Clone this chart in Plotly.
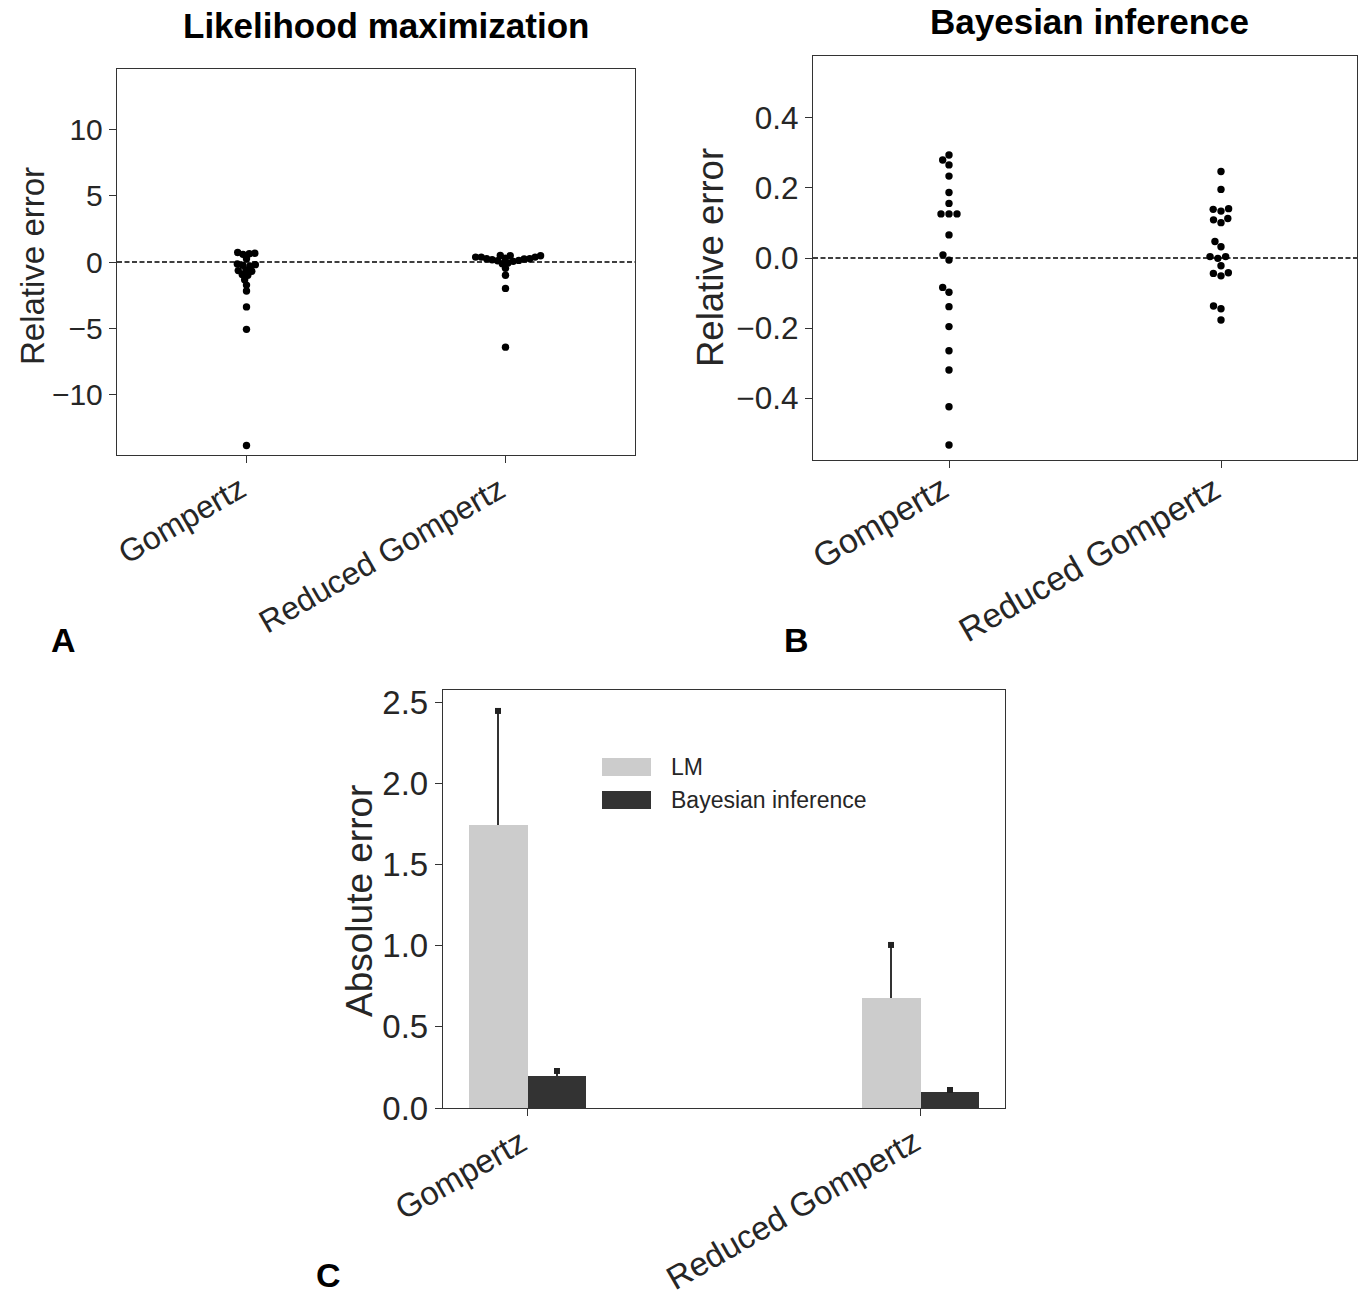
import numpy as np
import plotly.graph_objects as go

# ---------------------------------------------------------------- data
models = ["Gompertz", "Reduced Gompertz"]

# Relative errors, likelihood maximization (LM)
lm_gompertz = [0.72, 0.62, 0.58, 0.66, 0.25, -0.15, -0.25, -0.2, -0.3,
               -0.6, -0.7, -0.65, -1.0, -0.95, -1.35, -1.75, -2.2, -3.4,
               -5.1, -13.9]
lm_reduced = [0.47, 0.37, 0.29, 0.37, 0.17, 0.1, 0.5, 0.23, -0.08, 0.05,
              -0.13, 0.12, 0.25, 0.25, 0.37, 0.47, -0.48, -1.0, -2.0, -6.45]

# Relative errors, Bayesian inference
bayes_gompertz = [0.294, 0.28, 0.266, 0.234, 0.187, 0.156, 0.126, 0.126,
                  0.126, 0.066, 0.009, -0.006, -0.084, -0.098, -0.139,
                  -0.196, -0.265, -0.32, -0.425, -0.534]
bayes_reduced = [0.247, 0.196, 0.139, 0.134, 0.141, 0.109, 0.101, 0.113,
                 0.047, 0.032, 0.004, -0.001, 0.004, -0.022, -0.044,
                 -0.051, -0.042, -0.137, -0.145, -0.177]

# Mean absolute error and its standard error
lm_mean_abs = [1.74, 0.677]
lm_sem = [0.705, 0.327]
bayes_mean_abs = [0.197, 0.098]
bayes_sem = [0.031, 0.013]

# ---------------------------------------------------------------- layout
W, H = 1360, 1299
FONT = "Liberation Sans"
TXT = "#262626"
AX = "#333333"


def px_x(x):
    return x / W


def px_y(y):
    return 1 - y / H


# plot boxes in pixels: (left, top, right, bottom)
box_a = (117, 69, 635, 455)
box_b = (813, 56, 1357, 460)
box_c = (443, 690, 1005, 1108)

range_a = [-14.62, 14.62]
range_b = [-0.577, 0.577]
range_c = [0, 2.574]
xr_ab = [-0.5, 1.5]
xr_c = [-0.215, 1.215]

DOT = 7.4  # marker diameter in px


def swarm_offsets(values, box, yrange, xrange, diam):
    """Beeswarm layout: horizontal offsets (data units) so dots don't overlap."""
    ppy = (box[3] - box[1]) / (yrange[1] - yrange[0])
    ppx = (box[2] - box[0]) / (xrange[1] - xrange[0])
    vals = np.asarray(values, dtype=float)
    offs = np.zeros(len(vals))
    placed = []
    for i in np.argsort(vals, kind="stable"):
        y = vals[i] * ppy
        cands = [0.0]
        for (qx, qy) in placed:
            dy = abs(qy - y)
            if dy < diam:
                dx = np.sqrt(diam ** 2 - dy ** 2)
                cands += [qx + dx, qx - dx]
        cands.sort(key=lambda c: (abs(c), c))
        chosen = cands[-1]
        for c in cands:
            if all((c - qx) ** 2 + (y - qy) ** 2 >= diam ** 2 - 1e-6
                   for (qx, qy) in placed):
                chosen = c
                break
        placed.append((chosen, y))
        offs[i] = chosen / ppx
    return offs


fig = go.Figure()

# ---- panel A: LM relative errors
for k, vals in enumerate([lm_gompertz, lm_reduced]):
    xo = k + swarm_offsets(vals, box_a, range_a, xr_ab, 5.6)
    fig.add_trace(go.Scatter(x=xo, y=vals, mode="markers", xaxis="x", yaxis="y",
                             marker=dict(size=DOT, color="black"),
                             cliponaxis=False, showlegend=False))

# ---- panel B: Bayesian relative errors
for k, vals in enumerate([bayes_gompertz, bayes_reduced]):
    xo = k + swarm_offsets(vals, box_b, range_b, xr_ab, 8.0)
    fig.add_trace(go.Scatter(x=xo, y=vals, mode="markers", xaxis="x2", yaxis="y2",
                             marker=dict(size=DOT, color="black"),
                             cliponaxis=False, showlegend=False))

# ---- panel C: mean absolute errors
BW = 0.15
xpos = np.arange(len(models))
for vals, errs, col, off in [(lm_mean_abs, lm_sem, "#cccccc", -BW),
                             (bayes_mean_abs, bayes_sem, "#333333", 0.0)]:
    fig.add_trace(go.Bar(x=xpos, y=vals, width=BW, offset=off, xaxis="x3", yaxis="y3",
                         marker=dict(color=col, line=dict(width=0)),
                         error_y=dict(type="data", array=errs, arrayminus=[0] * len(errs),
                                      symmetric=False, color=AX, thickness=1.5, width=0),
                         showlegend=False))
    fig.add_trace(go.Scatter(x=xpos + off + BW / 2,
                             y=np.asarray(vals) + np.asarray(errs),
                             mode="markers", xaxis="x3", yaxis="y3",
                             marker=dict(symbol="square", size=6, color="#222222"),
                             cliponaxis=False, showlegend=False))


def axis_style(size=30, **kw):
    d = dict(showline=True, mirror=True, linecolor=AX, linewidth=1.4,
             ticks="outside", ticklen=7, tickwidth=1.4, tickcolor=AX,
             showgrid=False, zeroline=False, automargin=False,
             tickfont=dict(family=FONT, size=size, color=TXT))
    d.update(kw)
    return d


def dom_x(b):
    return [px_x(b[0]), px_x(b[2])]


def dom_y(b):
    return [px_y(b[3]), px_y(b[1])]


def cat_axis(box, xr, anchor):
    # category names are drawn as rotated, right-aligned annotations below
    return axis_style(domain=dom_x(box), range=xr, anchor=anchor,
                      tickvals=list(range(len(models))), showticklabels=False)


fig.update_layout(
    width=W, height=H, autosize=False,
    margin=dict(l=0, r=0, t=0, b=0, autoexpand=False),
    paper_bgcolor="white", plot_bgcolor="white",
    showlegend=False, bargap=0,
    xaxis=cat_axis(box_a, xr_ab, "y"),
    yaxis=axis_style(domain=dom_y(box_a), range=range_a, anchor="x",
                     tickvals=[-10, -5, 0, 5, 10]),
    xaxis2=cat_axis(box_b, xr_ab, "y2"),
    yaxis2=axis_style(size=31.5, domain=dom_y(box_b), range=range_b, anchor="x2",
                      tickvals=[-0.4, -0.2, 0, 0.2, 0.4], tickformat=".1f"),
    xaxis3=cat_axis(box_c, xr_c, "y3"),
    yaxis3=axis_style(size=33, domain=dom_y(box_c), range=range_c, anchor="x3",
                      tickvals=[0, 0.5, 1.0, 1.5, 2.0, 2.5], tickformat=".1f"),
)

# rotated category labels, right end aligned under each tick
for xref, box, size, gap, shift in [("x", box_a, 32, 12, 8), ("x2", box_b, 34, 6, 8),
                                    ("x3", box_c, 33, 11, 8)]:
    for k, name in enumerate(models):
        fig.add_annotation(text=name, xref=xref, x=k, yref="paper",
                           y=px_y(box[3] + gap), showarrow=False, textangle=-30,
                           xanchor="right", yanchor="top", xshift=shift,
                           font=dict(family=FONT, size=size, color=TXT))

# zero reference lines
for xr, yr in [("x domain", "y"), ("x2 domain", "y2")]:
    fig.add_shape(type="line", xref=xr, yref=yr, x0=0, x1=1, y0=0, y1=0,
                  line=dict(color="black", width=1.3, dash="5px,2.5px"))

# text: titles, axis titles, panel letters
texts = [
    ("<b>Likelihood maximization</b>", 386, 25, 35, 0, "middle"),
    ("<b>Bayesian inference</b>", 1089, 22, 35, 0, "middle"),
    ("Relative error", 32, 266, 33, -90, "middle"),
    ("Relative error", 711, 258, 36.5, -90, "middle"),
    ("Absolute error", 360, 901, 37, -90, "middle"),
    ("<b>A</b>", 63, 640, 34, 0, "middle"),
    ("<b>B</b>", 796, 640, 34, 0, "middle"),
    ("<b>C</b>", 328, 1296, 34, 0, "bottom"),
]
for t, x, y, s, ang, ya in texts:
    fig.add_annotation(text=t, x=px_x(x), y=px_y(y), xref="paper", yref="paper",
                       showarrow=False, textangle=ang, xanchor="center", yanchor=ya,
                       font=dict(family=FONT, size=s, color="black" if "<b>" in t else TXT))

# legend for panel C
legend_items = [("LM", "#cccccc", 767), ("Bayesian inference", "#333333", 800)]
for name, col, yc in legend_items:
    fig.add_shape(type="rect", xref="paper", yref="paper",
                  x0=px_x(602), x1=px_x(651), y0=px_y(yc + 9), y1=px_y(yc - 9),
                  fillcolor=col, line=dict(width=0))
    fig.add_annotation(text=name, x=px_x(669), y=px_y(yc), xref="paper", yref="paper",
                       showarrow=False, xanchor="left", yanchor="middle",
                       font=dict(family=FONT, size=23, color=TXT))

fig.write_html("out.html")
